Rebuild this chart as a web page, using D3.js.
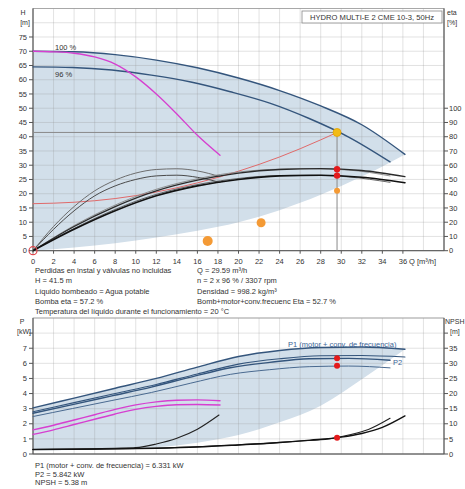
<!DOCTYPE html>
<html><head><meta charset="utf-8">
<script src="https://cdn.jsdelivr.net/npm/d3@7"></script>
<style>body{margin:0;background:#fff}svg{display:block;font-family:"Liberation Sans",Arial,sans-serif}</style>
</head><body><svg id="c" width="465" height="489"></svg>
<script>
// ---------- DATA ----------
const qTickLabels = [0,2,4,6,8,10,12,14,16,18,20,22,24,26,28,30,32,34,36];
const qGrid = [0,2,4,6,8,10,12,14,16,18,20,22,24,26,28,30,32,34,36,38,40];
const hTickLabels = [0,5,10,15,20,25,30,35,40,45,50,55,60,65,70,75];
const hGrid = [0,5,10,15,20,25,30,35,40,45,50,55,60,65,70,75,80,85];
const etaTickLabels = [0,10,20,30,40,50,60,70,80,90,100];
const pTickLabels = [0,1,2,3,4,5,6,7];
const pGrid = [0,1,2,3,4,5,6,7,8,9];
const npshTickLabels = [0,5,10,15,20,25,30,35];

// pump curves (top)
const q100 = [0,4,8,12,16,20,24,28,32,36.2];
const h100 = [70,69.8,68.8,66.9,64.2,60.6,56.2,50.8,44.2,33.8];
const shadeHLow = [0,1.1,2.6,4.6,7,10,14.2,19.6,26,33.8];
const q96 = [0,3.84,7.68,11.52,15.36,19.2,23.04,26.88,30.72,34.75];
const h96 = [64.5,64.3,63.4,61.6,59.2,55.8,51.8,46.4,39.9,31.2];
const qSingle = [0,2,4,6,8,10,12,14,16,18.2];
const hSingle = [70,69.8,69.3,68,65.5,61,55,48,40.5,33.5];
// efficiency curves [%]
const etaPumpSingle = [0,17,31,42,49.5,54.5,57,57.5,56,52];
const etaTotSingle = [0,15,28,38.5,45.5,50,52.5,53,51.5,48];
const etaPump100 = [0,17,31,42,49.5,54.5,57,57.6,56.3,52];
const etaTot100 = [0,15,28,38.5,45.5,50,52.5,53,51.5,47.7];
const etaPump96 = [0,17,31,42,49.5,54.5,57,57.6,56.6,52.5];
const etaTot96 = [0,15,28,38.5,45.5,50,52.5,53,51.8,48];
// system curve
const qSys = [0,4,8,12,16,20,24,28,29.59];
const hSys = [16.5,17,18.3,20.6,23.8,27.9,32.9,38.9,41.5];
// duty point
const dutyQ = 29.59, dutyH = 41.5, dutyEtaPump = 57.2, dutyEtaTot = 52.7, dutyEtaOrange = 42;
const orangeQ = [17,22.2];
const orangeEta = [6.8,19.6];

// power curves (bottom) [kW]
const p1_100 = [3.05,3.7,4.35,5.0,5.75,6.45,6.85,7.05,7.08,6.93];
const p2_100 = [2.8,3.4,4.0,4.6,5.3,5.95,6.3,6.5,6.52,6.42];
const p1_96 = [2.7,3.27,3.85,4.43,5.09,5.71,6.06,6.3,6.33,6.2];
const p2_96 = [2.48,3.01,3.54,4.07,4.69,5.27,5.58,5.78,5.82,5.7];
const shadePLow = [0.25,0.27,0.33,0.45,0.75,1.25,2.1,3.2,4.95,6.93];
const pSingleUpper = [1.6,1.9,2.25,2.6,2.95,3.25,3.45,3.56,3.58,3.52];
const pSingleLower = [1.3,1.6,1.95,2.3,2.65,2.95,3.15,3.26,3.28,3.24];
// NPSH [m]
const qN100 = [0,6,12,16,20,24,27,30,32,34,36.2];
const npsh100 = [1.5,1.6,1.9,2.3,3.0,3.8,4.6,5.6,6.8,8.8,12.6];
const qN96 = [0,5.76,11.52,15.36,19.2,23.04,25.92,28.8,30.72,32.64,34.75];
const npsh96 = [1.5,1.6,1.9,2.3,2.9,3.6,4.3,5.0,6.3,8.1,11.8];
const qNSingle = [0,4,8,10,12,14,16,18.1];
const npshSingle = [1.5,1.6,1.9,2.1,3.3,5.2,8.2,12.9];
const dutyP1 = 6.331, dutyP2 = 5.842, dutyNPSH = 5.38;

const topTexts = ["Perdidas en instal y válvulas no incluidas","H = 41.5 m","Líquido bombeado = Agua potable","Bomba eta = 57.2 %","Temperatura del líquido durante el funcionamiento = 20 °C"];
const topTexts2 = ["Q = 29.59 m³/h","n = 2 x 96 % / 3307 rpm","Densidad = 998.2 kg/m³","Bomb+motor+conv.frecuenc Eta = 52.7 %"];
const bottomTexts = ["P1 (motor + conv. de frecuencia) = 6.331 kW","P2 = 5.842 kW","NPSH = 5.38 m"];

// ---------- DRAW ----------
const svg = d3.select("#c");
const TXT = "#333", FS = "7.5px";
const BLUE = "#34557c", SHADE = "#d2dfea", GRID = "rgba(150,150,150,0.35)";

const x = d3.scaleLinear().domain([0,40]).range([33,444]);
const yH = d3.scaleLinear().domain([0,85]).range([250.7,8.5]);
const yEta = d3.scaleLinear().domain([0,170]).range([250.7,8.5]);
const yP = d3.scaleLinear().domain([0,9]).range([454,318]);
const yN = d3.scaleLinear().domain([0,45]).range([454,318]);

function zip(qs, vs){ return qs.map((q,i)=>[q,vs[i]]); }
function drawLine(g, qs, vs, ys, color, w){
  const ln = d3.line().x(d=>x(d[0])).y(d=>ys(d[1])).curve(d3.curveMonotoneX);
  g.append("path").attr("d", ln(zip(qs,vs))).attr("fill","none").attr("stroke",color).attr("stroke-width",w).attr("stroke-linecap","round");
}

// ===== TOP CHART =====
const gTop = svg.append("g");
gTop.append("rect").attr("x",x(0)).attr("y",yH(85)).attr("width",x(40)-x(0)).attr("height",yH(0)-yH(85)).attr("fill","#fff");
const areaTop = d3.area().x((d,i)=>x(d)).y0((d,i)=>yH(shadeHLow[i])).y1((d,i)=>yH(h100[i])).curve(d3.curveMonotoneX);
gTop.append("path").attr("d", areaTop(q100)).attr("fill",SHADE);
// grid
gTop.selectAll(".vg").data(qGrid).enter().append("line").attr("x1",d=>x(d)).attr("x2",d=>x(d)).attr("y1",yH(0)).attr("y2",yH(85)).attr("stroke",GRID).attr("stroke-width",0.8);
gTop.selectAll(".hg").data(hGrid).enter().append("line").attr("x1",x(0)).attr("x2",x(40)).attr("y1",d=>yH(d)).attr("y2",d=>yH(d)).attr("stroke",GRID).attr("stroke-width",0.8);
// frame
gTop.append("rect").attr("x",x(0)).attr("y",yH(85)).attr("width",x(40)-x(0)).attr("height",yH(0)-yH(85)).attr("fill","none").attr("stroke","#9a9a9a").attr("stroke-width",0.8);
gTop.append("line").attr("x1",x(0)).attr("x2",x(0)).attr("y1",yH(0)).attr("y2",yH(85)).attr("stroke","#555").attr("stroke-width",1);
gTop.append("line").attr("x1",x(40)).attr("x2",x(40)).attr("y1",yH(0)).attr("y2",yH(85)).attr("stroke","#555").attr("stroke-width",1);
gTop.append("line").attr("x1",x(0)).attr("x2",x(40)).attr("y1",yH(0)).attr("y2",yH(0)).attr("stroke","#555").attr("stroke-width",1);

// duty guide lines
gTop.append("line").attr("x1",x(0)).attr("x2",x(dutyQ)).attr("y1",yH(dutyH)).attr("y2",yH(dutyH)).attr("stroke","#8a8a8a").attr("stroke-width",1);
gTop.append("line").attr("x1",x(dutyQ)).attr("x2",x(dutyQ)).attr("y1",yH(dutyH)).attr("y2",yH(0)).attr("stroke","#8a8a8a").attr("stroke-width",1);

// pump curves
drawLine(gTop, q100, h100, yH, BLUE, 1.4);
drawLine(gTop, q96, h96, yH, BLUE, 1.4);
drawLine(gTop, qSingle, hSingle, yH, "#d63fd0", 1.3);
// system curve
drawLine(gTop, qSys, hSys, yH, "#e06a6a", 1);
// efficiency curves
drawLine(gTop, qSingle, etaPumpSingle, yEta, "#6d6d6d", 1);
drawLine(gTop, qSingle, etaTotSingle, yEta, "#4a4a4a", 1);
drawLine(gTop, q96, etaPump96, yEta, "#888", 0.9);
drawLine(gTop, q96, etaTot96, yEta, "#555", 0.9);
drawLine(gTop, q100, etaPump100, yEta, "#2a2a2a", 1.3);
drawLine(gTop, q100, etaTot100, yEta, "#111", 1.6);

// points
gTop.append("circle").attr("cx",x(0)).attr("cy",yH(0)).attr("r",4).attr("fill","none").attr("stroke","#e0474c").attr("stroke-width",1.2);
gTop.append("circle").attr("cx",x(dutyQ)).attr("cy",yH(dutyH)).attr("r",4).attr("fill","#f2bb16").attr("stroke","#e5a300").attr("stroke-width",0.8);
gTop.append("circle").attr("cx",x(dutyQ)).attr("cy",yEta(dutyEtaPump)).attr("r",3.2).attr("fill","#e31a1c");
gTop.append("circle").attr("cx",x(dutyQ)).attr("cy",yEta(dutyEtaTot)).attr("r",3.2).attr("fill","#e31a1c");
gTop.append("circle").attr("cx",x(dutyQ)).attr("cy",yEta(dutyEtaOrange)).attr("r",3).attr("fill","#f49a35");
gTop.selectAll(".od").data(orangeQ).enter().append("circle").attr("cx",d=>x(d)).attr("cy",(d,i)=>yEta(orangeEta[i])).attr("r",(d,i)=>i===0?5:4.5).attr("fill","#f49a35");

// labels on curves
gTop.append("text").attr("x",55).attr("y",50).attr("font-size",FS).attr("fill",TXT).text("100 %");
gTop.append("text").attr("x",55).attr("y",77).attr("font-size",FS).attr("fill",TXT).text("96 %");

// axes
gTop.selectAll(".ht").data(hTickLabels).enter().append("line").attr("x1",x(0)-4).attr("x2",x(0)).attr("y1",d=>yH(d)).attr("y2",d=>yH(d)).attr("stroke","#555");
gTop.selectAll(".hl").data(hTickLabels).enter().append("text").attr("x",27).attr("y",d=>yH(d)).attr("dy","0.35em").attr("text-anchor","end").attr("font-size",FS).attr("fill",TXT).text(d=>d);
gTop.append("text").attr("x",23).attr("y",15).attr("text-anchor","middle").attr("font-size","7px").attr("fill",TXT).text("H");
gTop.append("text").attr("x",25).attr("y",25).attr("text-anchor","middle").attr("font-size","7px").attr("fill",TXT).text("[m]");
gTop.selectAll(".et").data(etaTickLabels).enter().append("line").attr("x1",x(40)).attr("x2",x(40)+4).attr("y1",d=>yEta(d)).attr("y2",d=>yEta(d)).attr("stroke","#555");
gTop.selectAll(".el").data(etaTickLabels).enter().append("text").attr("x",449).attr("y",d=>yEta(d)).attr("dy","0.35em").attr("font-size",FS).attr("fill",TXT).text(d=>d);
gTop.append("text").attr("x",447).attr("y",15).attr("font-size","7px").attr("fill",TXT).text("eta");
gTop.append("text").attr("x",447).attr("y",25).attr("font-size","7px").attr("fill",TXT).text("[%]");
gTop.selectAll(".qt").data(qTickLabels).enter().append("line").attr("x1",d=>x(d)).attr("x2",d=>x(d)).attr("y1",yH(0)).attr("y2",yH(0)+3).attr("stroke","#555");
gTop.selectAll(".ql").data(qTickLabels).enter().append("text").attr("x",d=>x(d)).attr("y",264).attr("text-anchor","middle").attr("font-size",FS).attr("fill",TXT).text(d=>d);
gTop.append("text").attr("x",409).attr("y",264).attr("font-size",FS).attr("fill",TXT).text("Q [m³/h]");

// title box
gTop.append("rect").attr("x",302).attr("y",11).attr("width",140).attr("height",12).attr("fill","#fff").attr("stroke","#888").attr("stroke-width",0.8);
gTop.append("text").attr("x",372).attr("y",20).attr("text-anchor","middle").attr("font-size","7.6px").attr("fill",TXT).text("HYDRO MULTI-E 2 CME 10-3, 50Hz");

// text block
const tb = [272.5,283,293.5,304,314];
svg.selectAll(".t1").data(topTexts).enter().append("text").attr("x",35).attr("y",(d,i)=>tb[i]).attr("font-size",FS).attr("fill",TXT).text(d=>d);
svg.selectAll(".t2").data(topTexts2).enter().append("text").attr("x",197).attr("y",(d,i)=>tb[i]).attr("font-size",FS).attr("fill",TXT).text(d=>d);

// ===== BOTTOM CHART =====
const gBot = svg.append("g");
gBot.append("rect").attr("x",x(0)).attr("y",yP(9)).attr("width",x(40)-x(0)).attr("height",yP(0)-yP(9)).attr("fill","#fff");
const areaBot = d3.area().x(d=>x(d)).y0((d,i)=>yP(shadePLow[i])).y1((d,i)=>yP(p1_100[i])).curve(d3.curveMonotoneX);
gBot.append("path").attr("d", areaBot(q100)).attr("fill",SHADE);
gBot.selectAll(".vg").data(qGrid).enter().append("line").attr("x1",d=>x(d)).attr("x2",d=>x(d)).attr("y1",yP(0)).attr("y2",yP(9)).attr("stroke",GRID).attr("stroke-width",0.8);
gBot.selectAll(".hg").data(pGrid).enter().append("line").attr("x1",x(0)).attr("x2",x(40)).attr("y1",d=>yP(d)).attr("y2",d=>yP(d)).attr("stroke",GRID).attr("stroke-width",0.8);
gBot.append("rect").attr("x",x(0)).attr("y",yP(9)).attr("width",x(40)-x(0)).attr("height",yP(0)-yP(9)).attr("fill","none").attr("stroke","#9a9a9a").attr("stroke-width",0.8);
gBot.append("line").attr("x1",x(0)).attr("x2",x(0)).attr("y1",yP(0)).attr("y2",yP(9)).attr("stroke","#555");
gBot.append("line").attr("x1",x(40)).attr("x2",x(40)).attr("y1",yP(0)).attr("y2",yP(9)).attr("stroke","#555");
gBot.append("line").attr("x1",x(0)).attr("x2",x(40)).attr("y1",yP(0)).attr("y2",yP(0)).attr("stroke","#555");

drawLine(gBot, q100, p1_100, yP, BLUE, 1.4);
drawLine(gBot, q96, p1_96, yP, BLUE, 1.4);
drawLine(gBot, q100, p2_100, yP, BLUE, 1.1);
drawLine(gBot, q96, p2_96, yP, "#4a6a90", 1);
drawLine(gBot, qSingle, pSingleUpper, yP, "#d63fd0", 1.4);
drawLine(gBot, qSingle, pSingleLower, yP, "#d63fd0", 1.4);
drawLine(gBot, qNSingle, npshSingle, yN, "#222", 1.1);
drawLine(gBot, qN96, npsh96, yN, "#222", 1.1);
drawLine(gBot, qN100, npsh100, yN, "#111", 1.4);

gBot.append("circle").attr("cx",x(dutyQ)).attr("cy",yP(dutyP1)).attr("r",3).attr("fill","#e31a1c");
gBot.append("circle").attr("cx",x(dutyQ)).attr("cy",yP(dutyP2)).attr("r",3).attr("fill","#e31a1c");
gBot.append("circle").attr("cx",x(dutyQ)).attr("cy",yN(dutyNPSH)).attr("r",3).attr("fill","#e31a1c");

gBot.append("text").attr("x",288).attr("y",346.5).attr("font-size",FS).attr("fill","#3a6496").text("P1 (motor + conv. de frecuencia)");
gBot.append("text").attr("x",393).attr("y",365).attr("font-size",FS).attr("fill","#3a6496").text("P2");

gBot.selectAll(".pt").data(pGrid.slice(0,9)).enter().append("line").attr("x1",x(0)-4).attr("x2",x(0)).attr("y1",d=>yP(d)).attr("y2",d=>yP(d)).attr("stroke","#555");
gBot.selectAll(".pl").data(pTickLabels).enter().append("text").attr("x",27).attr("y",d=>yP(d)).attr("dy","0.35em").attr("text-anchor","end").attr("font-size",FS).attr("fill",TXT).text(d=>d);
gBot.append("text").attr("x",22).attr("y",324).attr("text-anchor","middle").attr("font-size","7px").attr("fill",TXT).text("P");
gBot.append("text").attr("x",24).attr("y",334).attr("text-anchor","middle").attr("font-size","7px").attr("fill",TXT).text("[kW]");
gBot.selectAll(".nt").data(pGrid.slice(0,9)).enter().append("line").attr("x1",x(40)).attr("x2",x(40)+4).attr("y1",d=>yP(d)).attr("y2",d=>yP(d)).attr("stroke","#555");
gBot.selectAll(".nl").data(npshTickLabels).enter().append("text").attr("x",449).attr("y",d=>yN(d)).attr("dy","0.35em").attr("font-size",FS).attr("fill",TXT).text(d=>d);
gBot.append("text").attr("x",445).attr("y",324).attr("font-size","7px").attr("fill",TXT).text("NPSH");
gBot.append("text").attr("x",450).attr("y",334).attr("font-size","7px").attr("fill",TXT).text("[m]");

const bb = [467.5,476.5,485];
svg.selectAll(".t3").data(bottomTexts).enter().append("text").attr("x",35).attr("y",(d,i)=>bb[i]).attr("font-size",FS).attr("fill",TXT).text(d=>d);
</script></body></html>
